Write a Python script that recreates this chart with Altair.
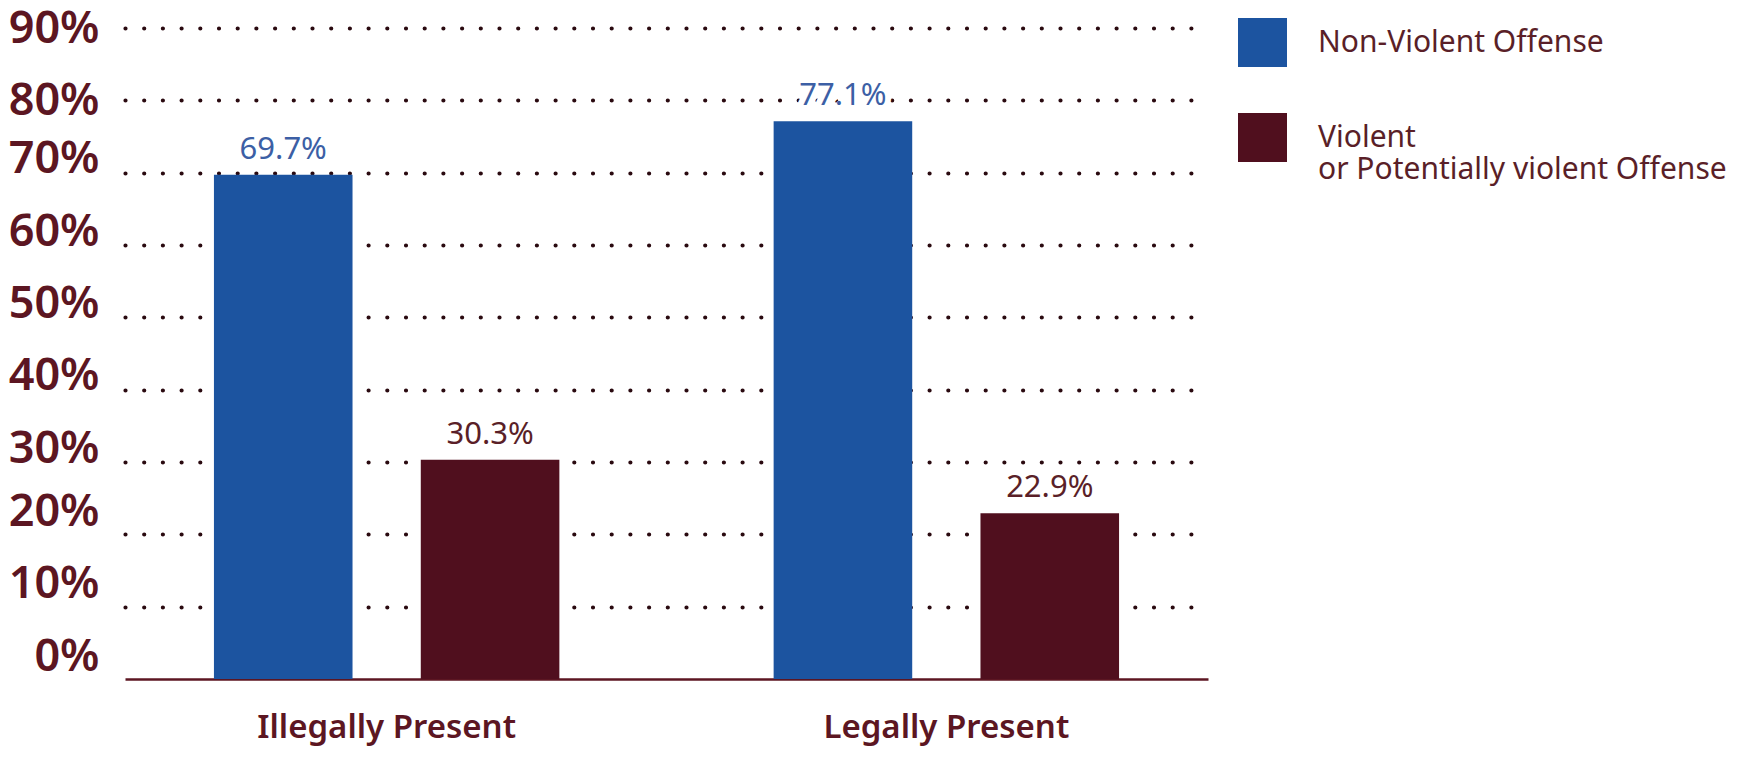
import altair as alt
import pandas as pd

groups = ["Illegally Present", "Legally Present"]
series = ["Non-Violent Offense", "Violent\nor Potentially violent Offense"]
non_violent = [69.7, 77.1]
violent = [30.3, 22.9]
y_ticks = [0, 10, 20, 30, 40, 50, 60, 70, 80, 90]

bar_colors = ["#1c54a0", "#500f1e"]
label_colors = ["#3c5fa5", "#5a1f28"]
maroon = "#5c1622"

rows = []
for i, g in enumerate(groups):
    rows.append({"group": g, "series": series[0], "value": non_violent[i]})
    rows.append({"group": g, "series": series[1], "value": violent[i]})
df = pd.DataFrame(rows)

x_enc = alt.X(
    "group:N", sort=groups,
    scale=alt.Scale(paddingInner=0.065, paddingOuter=0),
    axis=alt.Axis(title=None, labelAngle=0, labelFont="Noto Sans", labelFontWeight=600,
                  labelFontSize=33, labelColor=maroon, labelPadding=32, labelBaseline="top",
                  labelLimit=800, domainColor=maroon, domainWidth=2.5, ticks=False, grid=False),
)
xoff_enc = alt.XOffset("series:N", sort=series,
                       scale=alt.Scale(paddingInner=0.33, paddingOuter=0.43))
y_enc = alt.Y(
    "value:Q",
    scale=alt.Scale(domain=[0, 90], nice=False, zero=True),
    axis=alt.Axis(
        title=None, values=y_ticks, labelExpr="datum.value + '%'",
        labelFont="Noto Sans", labelFontWeight=600, labelFontSize=45, labelColor=maroon,
        labelPadding=26, domain=False, ticks=False,
        labelBaseline={"condition": [{"test": "datum.value >= 80", "value": "middle"},
                                     {"test": "datum.value <= 20", "value": "bottom"}],
                       "value": "alphabetic"},
        grid=True, gridColor="#2a0a10", gridDash=[0, 18.7], gridCap="round", gridWidth=4.2,
        gridOpacity={"condition": {"test": "datum.value === 0", "value": 0}, "value": 1},
    ),
)

bars = alt.Chart(df).mark_bar().encode(
    x=x_enc,
    xOffset=xoff_enc,
    y=y_enc,
    color=alt.Color(
        "series:N", sort=series,
        scale=alt.Scale(domain=series, range=bar_colors),
        legend=alt.Legend(
            title=None, orient="none", legendX=1113, legendY=-10,
            symbolType="square", symbolSize=2401, symbolStrokeWidth=0, symbolOpacity=1,
            labelFont="Noto Sans", labelFontSize=30, labelColor="#5a1f28",
            labelOffset=31, labelLimit=600,
            labelExpr="split(datum.label, '\\n')",
            rowPadding=46, padding=0,
        ),
    ),
)

label_base = alt.Chart(df).transform_calculate(
    label="format(datum.value, '.1f') + '%'"
)

halo = label_base.mark_text(
    baseline="alphabetic", dy=-16, font="Noto Sans", fontSize=31,
    fill="white", stroke="white", strokeWidth=12, strokeJoin="round",
).encode(
    x=x_enc,
    xOffset=xoff_enc,
    y=alt.Y("value:Q"),
    text="label:N",
)

labels = label_base.mark_text(baseline="alphabetic", dy=-16, font="Noto Sans", fontSize=31).encode(
    x=x_enc,
    xOffset=xoff_enc,
    y=alt.Y("value:Q"),
    text="label:N",
    color=alt.Color("series:N", sort=series,
                    scale=alt.Scale(domain=series, range=label_colors), legend=None),
)

chart = alt.layer(bars, halo, labels).resolve_scale(color="independent").properties(
    width=1083, height=651,
    autosize=alt.AutoSizeParams(type="none"),
    padding={"left": 117, "top": 20, "right": 523, "bottom": 70},
    background="white",
).configure_view(stroke=None)

chart.save("out.html", embed_options={"renderer": "svg", "actions": False})
